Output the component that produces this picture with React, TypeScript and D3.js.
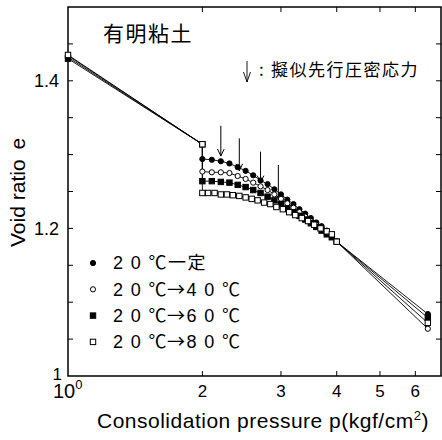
import React from 'react';
import * as d3 from 'd3';

// pressure steps (kgf/cm2)
const pStart = [1, 2];
const pSteps = [2.0, 2.1, 2.2, 2.3, 2.4, 2.5, 2.6, 2.7, 2.8, 2.9, 3.0, 3.1, 3.2, 3.3, 3.4, 3.5, 3.6, 3.7, 3.8, 3.9];
const pStepsSq = [2.0, 2.06, 2.13, 2.2, 2.27, 2.34, 2.42, 2.5, 2.58, 2.66, 2.75, 2.84, 2.93, 3.03, 3.13, 3.23, 3.34, 3.45, 3.56, 3.68, 3.8, 3.9];
const pEnd = [4, 6.4];

// void ratio e for each series
const e20const = [1.432, 1.314, 1.294, 1.293, 1.291, 1.288, 1.283, 1.278, 1.272, 1.265, 1.26, 1.253, 1.246, 1.239, 1.233, 1.226, 1.22, 1.214, 1.208, 1.203, 1.197, 1.19, 1.182, 1.084];
const e20to40 = [1.434, 1.314, 1.277, 1.276, 1.276, 1.275, 1.271, 1.267, 1.262, 1.257, 1.252, 1.246, 1.24, 1.234, 1.228, 1.222, 1.216, 1.21, 1.205, 1.2, 1.195, 1.19, 1.182, 1.064];
const e20to60 = [1.43, 1.314, 1.264, 1.264, 1.263, 1.262, 1.259, 1.256, 1.252, 1.248, 1.243, 1.238, 1.233, 1.227, 1.222, 1.217, 1.212, 1.207, 1.202, 1.197, 1.192, 1.188, 1.182, 1.079];
const e20to80 = [1.435, 1.314, 1.248, 1.248, 1.248, 1.246, 1.246, 1.245, 1.244, 1.242, 1.24, 1.238, 1.235, 1.233, 1.229, 1.226, 1.222, 1.218, 1.214, 1.21, 1.205, 1.2, 1.196, 1.192, 1.182, 1.072];

// legend: start temperature, end part
const legendStart = '2 0 ℃';
const legendEnd = ['一定', '4 0 ℃', '6 0 ℃', '8 0 ℃'];

// quasi preconsolidation stress arrows
const arrowP = [2.2, 2.42, 2.7, 2.96];
const arrowTop = [1.339, 1.322, 1.304, 1.286];
const arrowTip = [1.298, 1.278, 1.262, 1.240];

const yTicks = [1.05, 1.1, 1.15, 1.2, 1.25, 1.3, 1.35, 1.4, 1.45];
const yLabels = [1.2, 1.4];
const xTicks = [2, 3, 4, 5, 6];

const FONT = "'Liberation Sans', Arial, 'Noto Sans CJK JP', sans-serif";
const CJK = "'Noto Sans CJK JP', sans-serif";

const left = 68, right = 441, top = 7, bottom = 376;

const x = d3.scaleLog().domain([1, 6.85]).range([left, right]);
const y = d3.scaleLinear().domain([1, 1.5]).range([bottom, top]);

const series = [
  { p: [...pStart, ...pSteps, ...pEnd], e: e20const, shape: 'circle', fill: '#000' },
  { p: [...pStart, ...pSteps, ...pEnd], e: e20to40, shape: 'circle', fill: '#fff' },
  { p: [...pStart, ...pSteps, ...pEnd], e: e20to60, shape: 'square', fill: '#000' },
  { p: [...pStart, ...pStepsSq, ...pEnd], e: e20to80, shape: 'square', fill: '#fff' },
];

const Marker = ({ cx, cy, shape, fill }: any) =>
  shape === 'circle'
    ? <circle cx={cx} cy={cy} r={2.6} fill={fill} stroke="#000" strokeWidth={1} />
    : <rect x={cx - 2.7} y={cy - 2.7} width={5.4} height={5.4} fill={fill} stroke="#000" strokeWidth={1} />;

const App = () => {
  const line = d3.line<[number, number]>().x(d => x(d[0])).y(d => y(d[1]));
  const order = [0, 1, 2, 3];

  return (
    <svg width={442} height={440} style={{ position: 'absolute', left: 0, top: 0, background: '#fff' }}>
      <rect width={442} height={440} fill="#fff" />
      {/* frame */}
      <path d={`M${left},${top}H${right}V${bottom}H${left}Z`} fill="none" stroke="#000" strokeWidth={1.5} />

      {/* y ticks */}
      {yTicks.map(t => (
        <g key={t}>
          <line x1={left} x2={left + 5} y1={y(t)} y2={y(t)} stroke="#000" />
          <line x1={right - 5} x2={right} y1={y(t)} y2={y(t)} stroke="#000" />
        </g>
      ))}
      {yLabels.map(t => (
        <text key={t} x={59} y={y(t)} dy="0.35em" textAnchor="end" fontFamily={FONT} fontSize={18}>{t.toFixed(1)}</text>
      ))}
      <text x={62} y={380} textAnchor="end" fontFamily={FONT} fontSize={17}>1</text>

      {/* x ticks */}
      {xTicks.map(t => (
        <g key={t}>
          <line x1={x(t)} x2={x(t)} y1={bottom} y2={bottom - 5} stroke="#000" />
          <line x1={x(t)} x2={x(t)} y1={top} y2={top + 5} stroke="#000" />
          <text x={x(t)} y={397} textAnchor="middle" fontFamily={FONT} fontSize={17}>{t}</text>
        </g>
      ))}
      <text x={53} y={398} fontFamily={FONT} fontSize={20}>10<tspan dy={-9} fontSize={13}>0</tspan></text>

      {/* axis titles */}
      <text x={97} y={428} fontFamily={FONT} fontSize={21} letterSpacing={0.5}>
        Consolidation pressure p(kgf/cm<tspan dy={-8} fontSize={13}>2</tspan><tspan dy={8}>)</tspan>
      </text>
      <text transform="translate(25,247) rotate(-90)" fontFamily={FONT} fontSize={21}>
        Void ratio<tspan dx={10}>e</tspan>
      </text>

      {/* title */}
      <text x={103} y={41} fontFamily={CJK} fontSize={21} letterSpacing={1.5}>有明粘土</text>

      {/* arrow legend */}
      <path d="M247,61V82M243.5,72L247,82L250.5,72" fill="none" stroke="#000" strokeWidth={0.9} />
      <text x={259} y={76} fontFamily={CJK} fontSize={17}>:</text>
      <text x={271} y={76} fontFamily={CJK} fontSize={17} letterSpacing={1.5}>擬似先行圧密応力</text>

      {/* lines */}
      {order.map(i => {
        const s = series[i];
        const pts = s.p.map((p, j) => [p, s.e[j]] as [number, number]);
        return <path key={'l' + i} d={line(pts) || ''} fill="none" stroke="#000" strokeWidth={0.9} />;
      })}

      {/* arrows */}
      {arrowP.map((p, i) => (
        <path key={'a' + i}
          d={`M${x(p)},${y(arrowTop[i])}V${y(arrowTip[i])}M${x(p) - 3.3},${y(arrowTip[i]) - 7}L${x(p)},${y(arrowTip[i])}L${x(p) + 3.3},${y(arrowTip[i]) - 7}`}
          fill="none" stroke="#000" strokeWidth={1} />
      ))}

      {/* markers */}
      {order.map(i => {
        const s = series[i];
        return (
          <g key={'m' + i}>
            {s.p.map((p, j) => <Marker key={j} cx={x(p)} cy={y(s.e[j])} shape={s.shape} fill={s.fill} />)}
          </g>
        );
      })}

      {/* legend */}
      {legendEnd.map((lab, i) => (
        <g key={lab} transform={`translate(93,${263 + i * 26.3})`}>
          <Marker cx={0} cy={0} shape={series[i].shape} fill={series[i].fill} />
          <text x={20} y={0} dy="0.36em" fontFamily={FONT} fontSize={18} letterSpacing={1.4}>
            {legendStart}
            {i === 0 ? <tspan fontFamily={CJK}>{lab}</tspan> : <><tspan fontFamily={CJK} dx={-1}>→</tspan>{lab}</>}
          </text>
        </g>
      ))}
    </svg>
  );
};

export default App;
